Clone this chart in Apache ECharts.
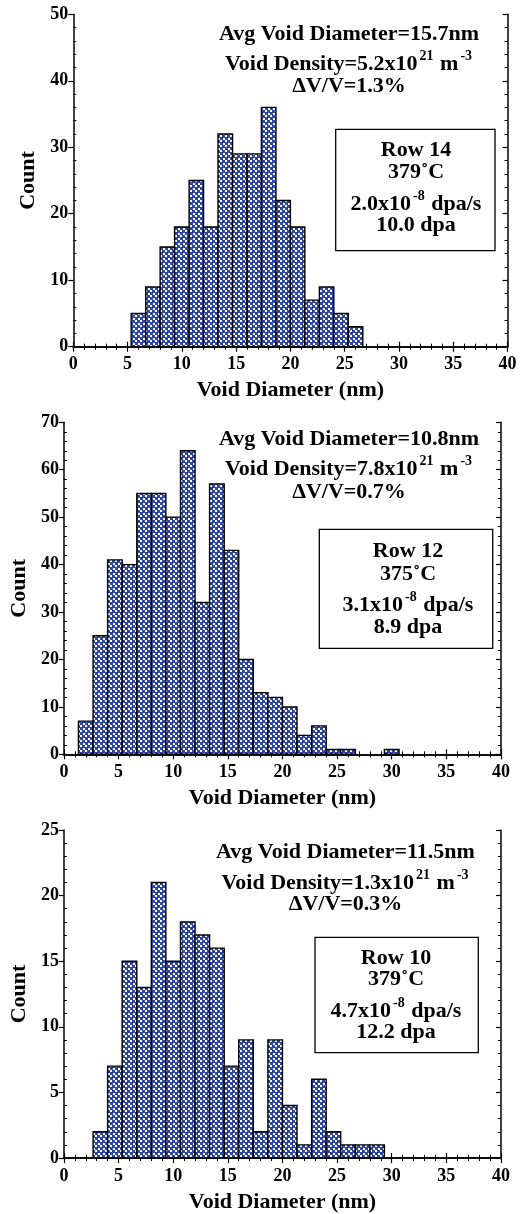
<!DOCTYPE html>
<html>
<head>
<meta charset="utf-8">
<script src="https://cdn.jsdelivr.net/npm/echarts@6/dist/echarts.min.js"></script>
<style>
html,body{margin:0;padding:0;background:#fff;}
#chart{width:521px;height:1214px;}
</style>
</head>
<body>
<div id="chart"></div>
<script>
// ---- data ----
// bin edges in nm (shared bin grid)
const binEdges = [1.33, 2.67, 4.00, 5.33, 6.67, 8.00, 9.33, 10.67, 12.00, 13.33, 14.67, 16.00, 17.33, 18.67, 20.00, 21.33, 22.67, 24.00, 25.33, 26.67, 28.00, 29.33, 30.67];
// Row 14: first bin starts at 5.33 nm
const row14Start = 5.33;
const row14Counts = [5, 9, 15, 18, 25, 18, 32, 29, 29, 36, 22, 18, 7, 9, 5, 3];
// Row 12: first bin starts at 1.33 nm
const row12Start = 1.33;
const row12Counts = [7, 25, 41, 40, 55, 55, 50, 64, 32, 57, 43, 20, 13, 12, 10, 4, 6, 1, 1, 0, 0, 1];
// Row 10: first bin starts at 2.67 nm
const row10Start = 2.67;
const row10Counts = [2, 7, 15, 13, 21, 15, 18, 17, 16, 7, 9, 2, 9, 4, 1, 6, 2, 1, 1, 1];

const xTicks = [0, 5, 10, 15, 20, 25, 30, 35, 40];
const yMaxes = [50, 70, 25];
const yIntervals = [10, 10, 5];

const avgDiam = ['15.7', '10.8', '11.5'];
const density = ['5.2', '7.8', '1.3'];
const dVV = ['1.3', '0.7', '0.3'];
const rowNames = ['Row 14', 'Row 12', 'Row 10'];
const temps = ['379', '375', '379'];
const rates = ['2.0', '3.1', '4.7'];
const doses = ['10.0', '8.9', '12.2'];

// ---- build ----
function binsFor(start, counts) {
  const i0 = binEdges.indexOf(start);
  return counts.map((c, i) => [binEdges[i0 + i], binEdges[i0 + i + 1], c]);
}
const panels = [binsFor(row14Start, row14Counts), binsFor(row12Start, row12Counts), binsFor(row10Start, row10Counts)];

const tile = document.createElement('canvas');
tile.width = 5; tile.height = 5;
const tctx = tile.getContext('2d');
tctx.fillStyle = '#2f46a3';
tctx.fillRect(0, 0, 5, 5);
tctx.fillStyle = '#ffffff';
tctx.fillRect(0, 0, 2, 2);
tctx.fillRect(3, 3, 2, 2);
const pattern = { image: tile, repeat: 'repeat' };

const FONT = '"Liberation Serif", "Times New Roman", serif';
const grids = [
  { left: 73.3, top: 14.3, width: 434.2, height: 332.4 },
  { left: 63.3, top: 422.3, width: 437.7, height: 332 },
  { left: 63.3, top: 830, width: 437.7, height: 332.7 }
];

const xAxis = [], yAxis = [], series = [];
const lineStyle = { color: '#000', width: 1.5 };
grids.forEach((g, i) => {
  xAxis.push({
    type: 'value', gridIndex: i, position: 'bottom', min: 0, max: 40, interval: 5,
    axisLine: { show: true, lineStyle }, splitLine: { show: false },
    axisTick: { show: true, inside: false, length: 5, lineStyle: { color: '#000', width: 1.2 } },
    minorTick: { show: true, splitNumber: 5, length: 3, lineStyle: { color: '#000', width: 1 } },
    axisLabel: { color: '#000', fontFamily: FONT, fontWeight: 'bold', fontSize: 18, margin: 9,
      formatter: v => (xTicks.indexOf(v) >= 0 ? String(v) : '') },
    name: 'Void Diameter (nm)', nameLocation: 'middle', nameGap: 33,
    nameTextStyle: { color: '#000', fontFamily: FONT, fontWeight: 'bold', fontSize: 22 }
  });
  xAxis.push({
    type: 'value', gridIndex: i, position: 'top', min: 0, max: 40, interval: 5,
    axisLine: { show: true, lineStyle }, splitLine: { show: false },
    axisTick: { show: true, inside: false, length: 5, lineStyle: { color: '#000', width: 1.2 } },
    minorTick: { show: true, splitNumber: 5, length: 3, lineStyle: { color: '#000', width: 1 } },
    axisLabel: { show: false }
  });
  const ymax = yMaxes[i], yint = yIntervals[i];
  yAxis.push({
    type: 'value', gridIndex: i, position: 'left', min: 0, max: ymax, interval: yint,
    axisLine: { show: true, lineStyle }, splitLine: { show: false },
    axisTick: { show: true, inside: false, length: 5, lineStyle: { color: '#000', width: 1.2 } },
    minorTick: { show: false },
    axisLabel: { color: '#000', fontFamily: FONT, fontWeight: 'bold', fontSize: 18, margin: 5 },
    name: 'Count', nameLocation: 'middle', nameGap: 30, nameRotate: 90,
    nameTextStyle: { color: '#000', fontFamily: FONT, fontWeight: 'bold', fontSize: 22 }
  });
  yAxis.push({
    type: 'value', gridIndex: i, position: 'left', min: 0, max: ymax, interval: yint,
    axisLine: { show: false }, splitLine: { show: false },
    axisTick: { show: false, inside: true },
    minorTick: { show: true, splitNumber: 5, length: 3, lineStyle: { color: '#000', width: 1 } },
    axisLabel: { show: false }
  });
  yAxis.push({
    type: 'value', gridIndex: i, position: 'right', min: 0, max: ymax, interval: yint,
    axisLine: { show: true, lineStyle }, splitLine: { show: false },
    axisTick: { show: true, inside: true, length: 5, lineStyle: { color: '#000', width: 1.2 } },
    minorTick: { show: true, splitNumber: 5, length: 3, lineStyle: { color: '#000', width: 1 } },
    axisLabel: { show: false }
  });
  series.push({
    type: 'custom', xAxisIndex: i * 2, yAxisIndex: i * 3,
    data: panels[i], encode: { x: [0, 1], y: 2 },
    renderItem: function (params, api) {
      const lo = api.value(0), hi = api.value(1), c = api.value(2);
      if (!c) return null;
      const p0 = api.coord([lo, c]);
      const p1 = api.coord([hi, 0]);
      return {
        type: 'rect',
        shape: { x: p0[0], y: p0[1], width: p1[0] - p0[0], height: p1[1] - p0[1] },
        style: { fill: pattern, stroke: '#000', lineWidth: 1.4 }
      };
    },
    silent: true, animation: false
  });
});

// ---- annotations ----
const ann = [
  { cx: 349, y1: 32, y2: 62, y3: 84, box: [335.7, 129.3, 159.3, 121.4], bx: 416, t: [148, 170, 202, 223] },
  { cx: 349, y1: 437, y2: 467, y3: 490, box: [319.3, 529.3, 173.4, 119], bx: 408, t: [549, 572, 603, 625] },
  { cx: 345.5, y1: 850, y2: 881, y3: 902, box: [315, 937.3, 163.3, 115.4], bx: 396, t: [956, 977, 1009, 1030] }
];
const rich = {
  n: { fontFamily: FONT, fontWeight: 'bold', fontSize: 22, lineHeight: 26, verticalAlign: 'bottom', fill: '#000' },
  s: { fontFamily: FONT, fontWeight: 'bold', fontSize: 14, lineHeight: 14, verticalAlign: 'top', fill: '#000', padding: [0, 1, 0, 2] }
};
const graphic = [];
function txt(x, y, text) {
  graphic.push({ type: 'text', x: x, y: y, z: 10,
    style: { text: text, rich: rich, align: 'center', verticalAlign: 'middle', fill: '#000',
      fontFamily: FONT, fontWeight: 'bold', fontSize: 22 } });
}
ann.forEach((a, i) => {
  txt(a.cx, a.y1, '{n|Avg Void Diameter=' + avgDiam[i] + 'nm}');
  txt(a.cx, a.y2, '{n|Void Density=' + density[i] + 'x10}{s|21}{n| m}{s|-3}');
  txt(a.cx, a.y3, '{n|\u0394V/V=' + dVV[i] + '%}');
  graphic.push({ type: 'rect', z: 9, shape: { x: a.box[0], y: a.box[1], width: a.box[2], height: a.box[3] },
    style: { fill: '#fff', stroke: '#000', lineWidth: 1.3 } });
  txt(a.bx, a.t[0], '{n|' + rowNames[i] + '}');
  txt(a.bx, a.t[1], '{n|' + temps[i] + '\u02DAC}');
  txt(a.bx, a.t[2], '{n|' + rates[i] + 'x10}{s|-8}{n| dpa/s}');
  txt(a.bx, a.t[3], '{n|' + doses[i] + ' dpa}');
});

const chart = echarts.init(document.getElementById('chart'), null, { renderer: 'canvas' });
chart.setOption({
  animation: false,
  backgroundColor: '#fff',
  grid: grids,
  xAxis: xAxis,
  yAxis: yAxis,
  series: series,
  graphic: graphic
});
</script>
</body>
</html>
